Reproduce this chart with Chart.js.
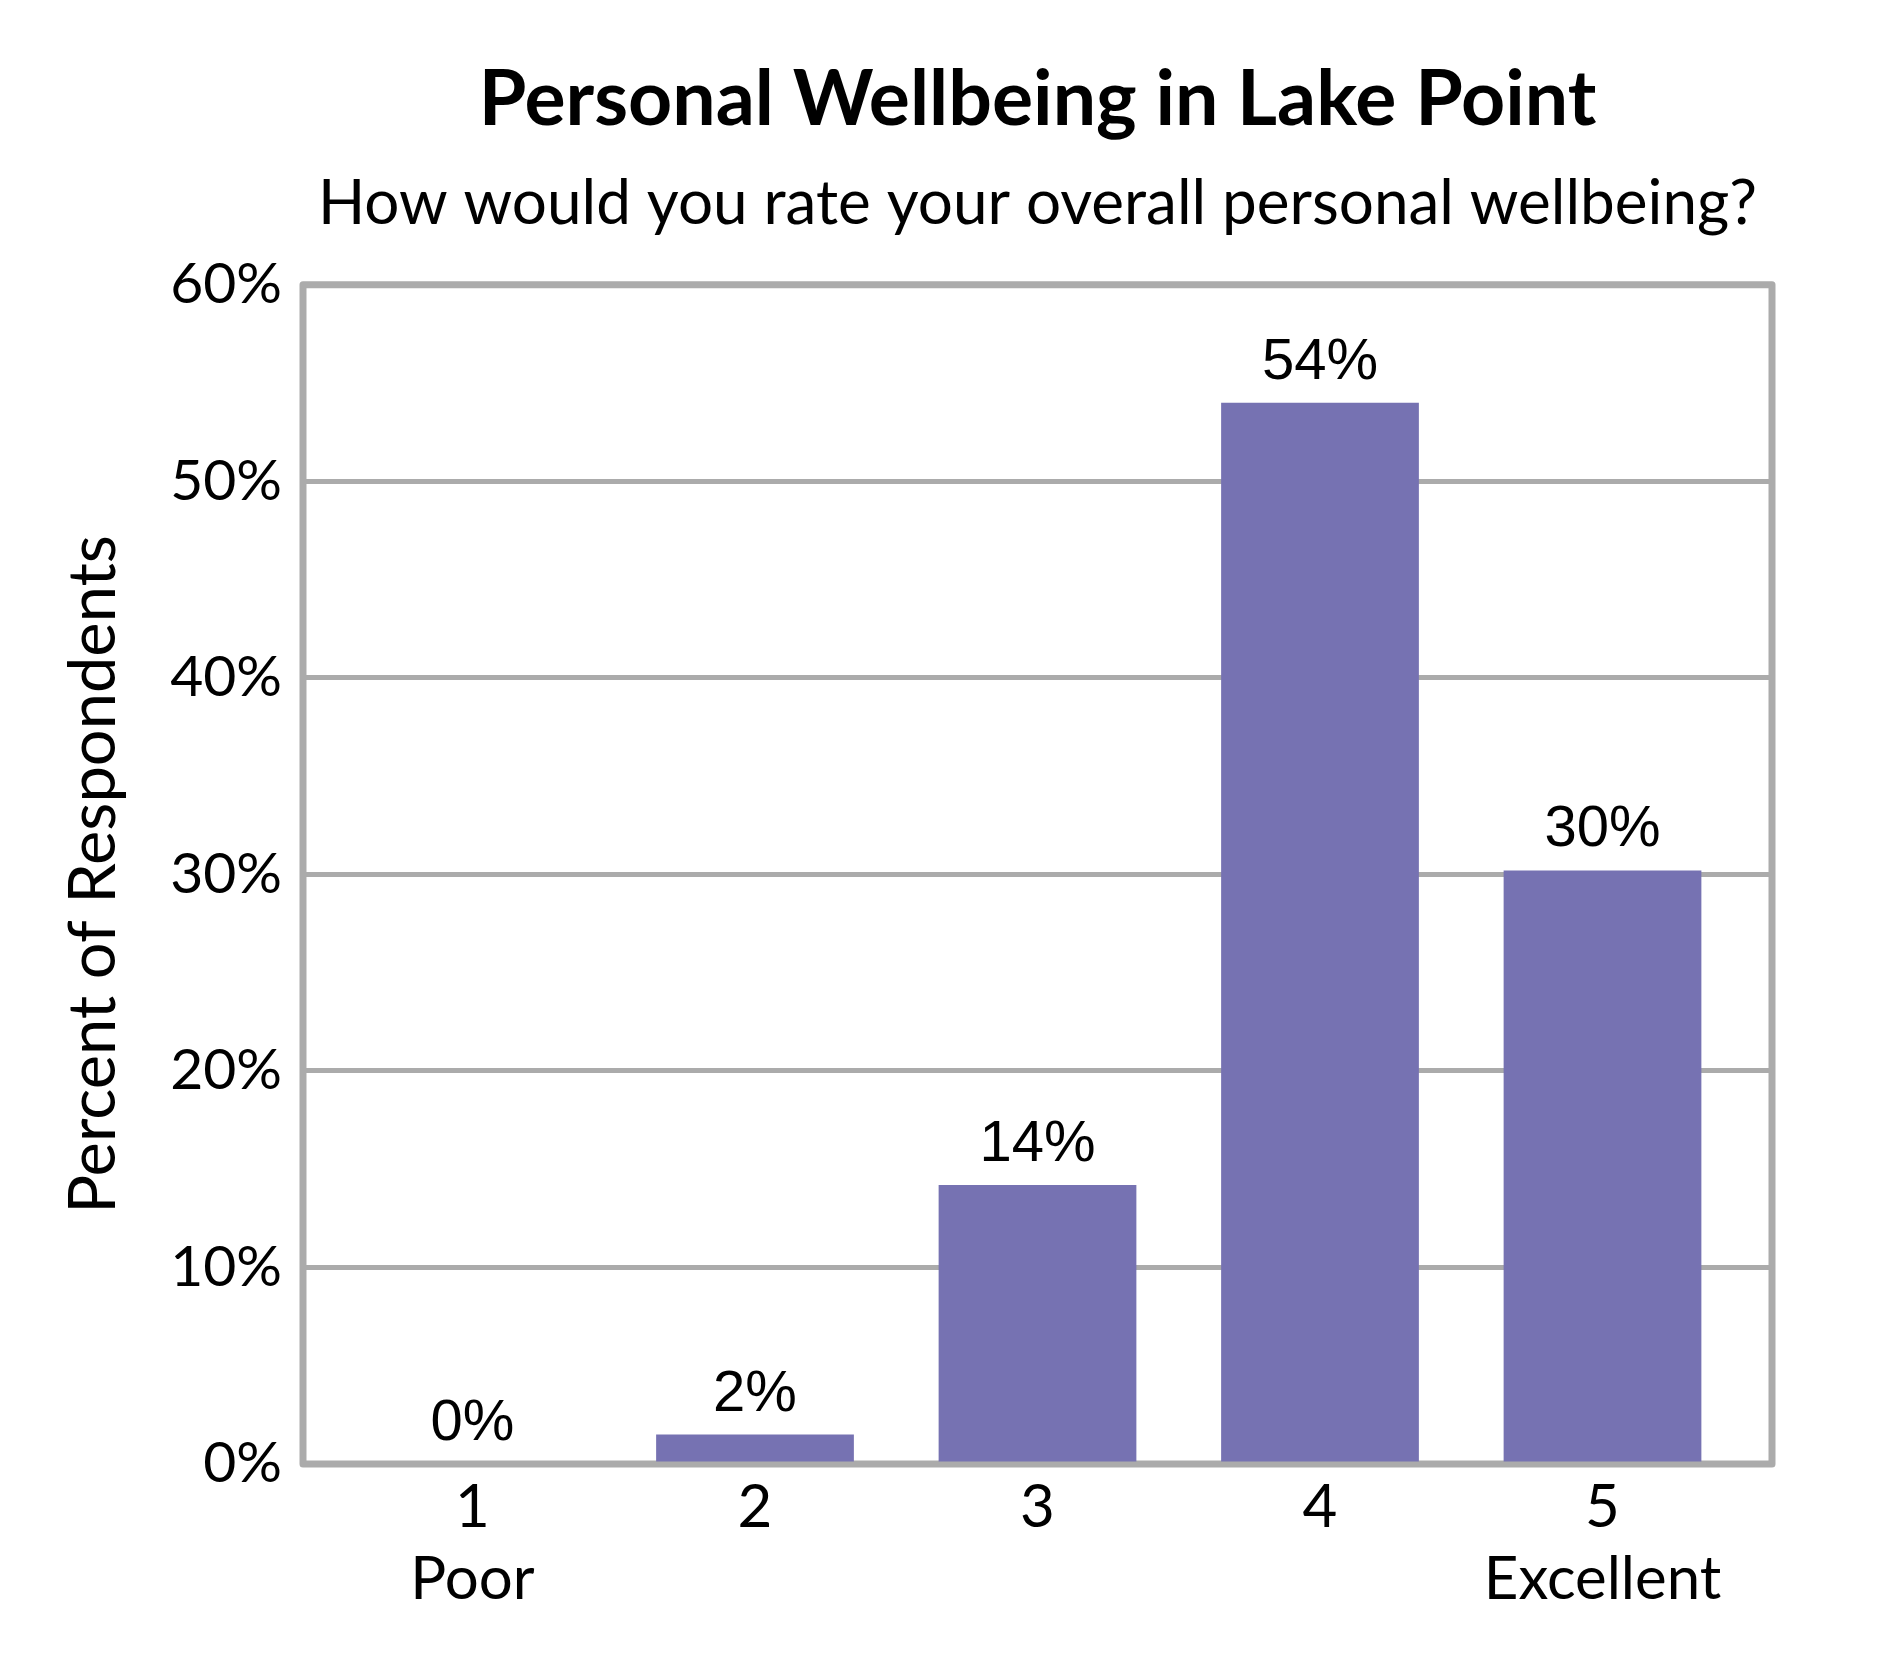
<!DOCTYPE html>
<html>
<head>
<meta charset="utf-8">
<title>Personal Wellbeing in Lake Point</title>
<script src="https://cdn.jsdelivr.net/npm/chart.js@4.4.1/dist/chart.umd.min.js"></script>
<style>
    html, body { margin: 0; padding: 0; background: #ffffff; }
    #wrap { width: 1890px; height: 1680px; }
</style>
</head>
<body>
<div id="wrap"><canvas id="chart" width="1890" height="1680"></canvas></div>
<script>
// rating categories and their second-line captions
const ratings = [1, 2, 3, 4, 5]
const ratingNotes = ['Poor', '', '', '', 'Excellent']
// percent of respondents per rating
const percents = [0, 1.5, 14.2, 54.0, 30.2]
// y axis ticks
const yTicks = [0, 10, 20, 30, 40, 50, 60]

const barColor = '#7672b2'
const lineColor = '#ababab'

// frame round the plot, drawn under the bars
const plotFrame = {
    id: 'plotFrame',
    beforeDatasetsDraw(chart) {
        const { ctx, chartArea } = chart
        ctx.save()
        ctx.strokeStyle = lineColor
        ctx.lineWidth = 7
        ctx.lineJoin = 'round'
        ctx.strokeRect(chartArea.left, chartArea.top, chartArea.right - chartArea.left, chartArea.bottom - chartArea.top)
        ctx.restore()
    }
}

// percent labels above each bar
const barLabels = {
    id: 'barLabels',
    afterDatasetsDraw(chart) {
        const { ctx } = chart
        const meta = chart.getDatasetMeta(0)
        ctx.save()
        ctx.fillStyle = '#000000'
        ctx.font = '58px "Liberation Sans", Arial, sans-serif'
        ctx.textAlign = 'center'
        ctx.textBaseline = 'alphabetic'
        meta.data.forEach((bar, i) => {
            ctx.fillText(Math.round(percents[i]) + '%', bar.x, bar.y - 24)
        })
        ctx.restore()
    }
}

const ctx = document.getElementById('chart')
ctx.chart = new Chart(ctx, {
    type: 'bar',
    data: {
        datasets: [{
            data: ratings.map((r, i) => ({ x: r, y: percents[i] })),
            backgroundColor: barColor,
            borderWidth: 0,
            barPercentage: 0.7,
            categoryPercentage: 1.0
        }]
    },
    options: {
        responsive: false,
        animation: false,
        devicePixelRatio: 1,
        layout: { padding: { left: 0, right: 118, top: 0, bottom: 68 } },
        plugins: {
            legend: { display: false },
            tooltip: { enabled: false },
            title: {
                display: true,
                text: 'Personal Wellbeing in Lake Point',
                color: '#000000',
                fullSize: false,
                font: { family: 'Lato', size: 77, weight: 'bold', lineHeight: 1.2 },
                padding: { top: 54, bottom: 0 }
            },
            subtitle: {
                display: true,
                text: 'How would you rate your overall personal wellbeing?',
                color: '#000000',
                fullSize: false,
                font: { family: 'Lato', size: 62, weight: 'normal', lineHeight: 1.2 },
                padding: { top: 20, bottom: 44 }
            }
        },
        scales: {
            x: {
                type: 'linear',
                offset: false,
                min: 0.4,
                max: 5.6,
                afterBuildTicks: scale => {
                    scale.ticks = ratings.map(v => ({ value: v }))
                },
                afterFit: scale => { scale.height = 148 },
                grid: { display: false },
                border: { display: false },
                ticks: {
                    autoSkip: false,
                    maxRotation: 0,
                    padding: 0,
                    color: '#000000',
                    font: { family: 'Lato', size: 60, lineHeight: 1.2 },
                    callback: value => {
                        const i = ratings.indexOf(value)
                        return [String(value), ratingNotes[i]]
                    }
                }
            },
            y: {
                min: 0,
                max: 60,
                afterBuildTicks: scale => {
                    scale.ticks = yTicks.map(v => ({ value: v }))
                },
                afterFit: scale => { scale.width = 303 },
                grid: {
                    color: lineColor,
                    lineWidth: 5,
                    drawTicks: false
                },
                border: { display: false },
                title: {
                    display: true,
                    text: 'Percent of Respondents',
                    color: '#000000',
                    font: { family: 'Lato', size: 65, lineHeight: 1.2 },
                    padding: { top: 55, bottom: 0 }
                },
                ticks: {
                    padding: 21,
                    color: '#000000',
                    font: { family: 'Lato', size: 57, lineHeight: 1.2 },
                    callback: value => value + '%'
                }
            }
        }
    },
    plugins: [plotFrame, barLabels]
})
</script>
</body>
</html>
